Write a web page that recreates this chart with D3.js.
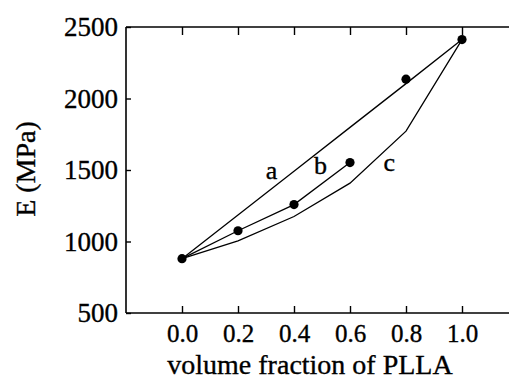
<!DOCTYPE html>
<html>
<head>
<meta charset="utf-8">
<script src="https://cdn.jsdelivr.net/npm/d3@7"></script>
<style>
  html, body { margin: 0; padding: 0; background: #fff; }
  svg { display: block; }
  svg text { font-family: "Liberation Serif", "DejaVu Serif", "Times New Roman", serif !important; fill: #000; stroke: #000; stroke-width: 0.35px; }
</style>
</head>
<body>
<svg id="chart" width="509" height="381"></svg>
<script>
// ---- data ----
const fractions = [0.0, 0.2, 0.4, 0.6, 0.8, 1.0];
const measured = [880, 1075, 1258, 1552, 2135, 2412];
const curveA = [880, 1186, 1492, 1798, 2104, 2412];
const curveBx = [0.0, 0.2, 0.4, 0.6];
const curveB = [880, 1075, 1258, 1552];
const curveC = [880, 1005, 1175, 1408, 1772, 2412];
const xTicks = [0.0, 0.2, 0.4, 0.6, 0.8, 1.0];
const yTicks = [500, 1000, 1500, 2000, 2500];
const curveLabels = [
  { name: "a", x: 0.32, y: 1440 },
  { name: "b", x: 0.495, y: 1470 },
  { name: "c", x: 0.74, y: 1495 }
];

const serif = '"Liberation Serif", "DejaVu Serif", "Times New Roman", serif';
const svg = d3.select("#chart");
const x = d3.scaleLinear().domain([-0.2, 1.2]).range([126, 518]);
const y = d3.scaleLinear().domain([500, 2500]).range([313, 27]);

// frame: left, top, bottom (open on the right)
const frame = svg.append("g").attr("stroke", "#000").attr("stroke-width", 1.6).attr("fill", "none");
frame.append("line").attr("x1", x(-0.2)).attr("x2", x(-0.2)).attr("y1", y(2500)).attr("y2", y(500));
frame.append("line").attr("x1", x(-0.2)).attr("x2", 509).attr("y1", y(2500)).attr("y2", y(2500));
frame.append("line").attr("x1", x(-0.2)).attr("x2", 509).attr("y1", y(500)).attr("y2", y(500));

// bottom axis (ticks inward, labels below)
const xAxisB = d3.axisBottom(x).tickValues(xTicks).tickSizeInner(-7).tickSizeOuter(0)
  .tickPadding(11).tickFormat(d3.format(".1f"));
const gxb = svg.append("g").attr("transform", `translate(0,${y(500)})`).call(xAxisB)
  .attr("font-family", serif).attr("font-size", 25);
gxb.select(".domain").remove();
gxb.selectAll("line").attr("stroke", "#000").attr("stroke-width", 1.4);
gxb.selectAll("text").attr("fill", "#000");

// top ticks
const xAxisT = d3.axisTop(x).tickValues(xTicks).tickSizeInner(-8).tickSizeOuter(0).tickFormat("");
const gxt = svg.append("g").attr("transform", `translate(0,${y(2500)})`).call(xAxisT);
gxt.select(".domain").remove();
gxt.selectAll("line").attr("stroke", "#000").attr("stroke-width", 1.4);

// left axis
const yAxis = d3.axisLeft(y).tickValues(yTicks).tickSizeInner(-5).tickSizeOuter(0)
  .tickPadding(8).tickFormat(d3.format("d"));
const gy = svg.append("g").attr("transform", `translate(${x(-0.2)},0)`).call(yAxis)
  .attr("font-family", serif).attr("font-size", 27);
gy.select(".domain").remove();
gy.selectAll("line").attr("stroke", "#000").attr("stroke-width", 1.4);
gy.selectAll("text").attr("fill", "#000");

// curves
const line = d3.line().x(d => x(d[0])).y(d => y(d[1]));
const plot = svg.append("g").attr("fill", "none").attr("stroke", "#000").attr("stroke-width", 1.3);
plot.append("path").attr("d", line(fractions.map((f, i) => [f, curveA[i]])));
plot.append("path").attr("d", line(curveBx.map((f, i) => [f, curveB[i]])));
plot.append("path").attr("d", line(fractions.map((f, i) => [f, curveC[i]])));

// measured points
svg.append("g").selectAll("circle").data(fractions).join("circle")
  .attr("cx", d => x(d)).attr("cy", (d, i) => y(measured[i])).attr("r", 4.6).attr("fill", "#000");

// curve labels
svg.append("g").selectAll("text").data(curveLabels).join("text")
  .attr("x", d => x(d.x)).attr("y", d => y(d.y)).attr("text-anchor", "middle")
  .attr("font-size", 26).text(d => d.name);

// axis titles
svg.append("text").attr("x", 310).attr("y", 374).attr("text-anchor", "middle")
  .attr("font-size", 28).text("volume fraction of PLLA");
svg.append("text").attr("transform", `translate(35,169) rotate(-90)`).attr("text-anchor", "middle")
  .attr("font-size", 28).text("E (MPa)");
</script>
</body>
</html>
